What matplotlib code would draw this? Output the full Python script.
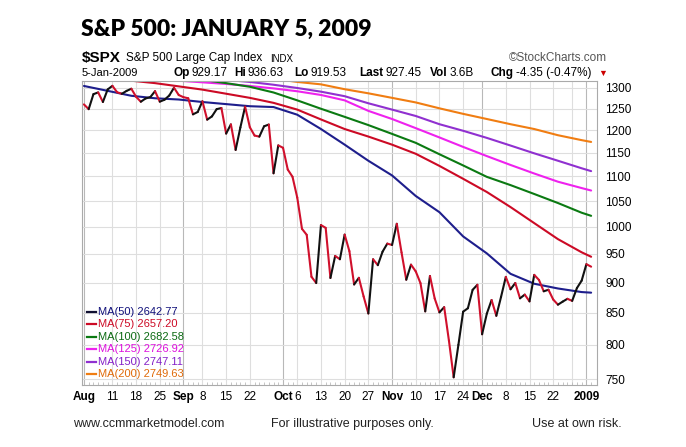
import matplotlib
matplotlib.use("Agg")
import matplotlib.pyplot as plt
from matplotlib.collections import LineCollection
from matplotlib.lines import Line2D
from matplotlib.ticker import FixedLocator, NullFormatter
import numpy as np
import pandas as pd

plt.rcParams['font.family'] = ['Liberation Sans', 'DejaVu Sans']

W, H = 686, 447

# trading days shown on the chart (Aug 1 2008 .. Jan 5 2009)
holidays = ['2008-09-01', '2008-11-27', '2008-12-25', '2009-01-01']
dates = pd.bdate_range('2008-08-01', '2009-01-05').drop(pd.to_datetime(holidays))

close = [
    # Aug
    1260.31, 1249.01, 1284.88, 1289.19, 1266.07, 1296.32, 1305.32, 1289.59, 1285.83, 1292.93,
    1298.20, 1278.60, 1266.69, 1274.54, 1277.72, 1292.20, 1266.84, 1271.51, 1281.66, 1300.68, 1282.83,
    # Sep
    1277.58, 1274.98, 1236.83, 1242.31, 1267.79, 1224.51, 1232.04, 1249.05, 1251.70, 1192.70,
    1213.60, 1156.39, 1206.51, 1255.08, 1207.09, 1188.22, 1185.87, 1209.18, 1213.27, 1106.42, 1166.36,
    # Oct
    1161.06, 1114.28, 1099.23, 1056.89, 996.23, 984.94, 909.92, 899.22, 1003.35, 998.01,
    907.84, 946.43, 940.55, 985.40, 955.05, 896.78, 908.11, 876.77, 848.92, 940.51,
    930.09, 954.09, 968.75,
    # Nov
    966.30, 1005.75, 952.77, 904.88, 930.99, 919.21, 898.95, 852.30, 911.29, 873.29,
    850.75, 859.12, 806.58, 752.44, 800.03, 851.81, 857.39, 887.68, 896.24,
    # Dec
    816.21, 848.81, 870.74, 845.22, 876.07, 909.70, 888.67, 899.24, 873.59, 879.73,
    868.57, 913.18, 904.42, 885.28, 887.88, 871.63, 863.16, 868.15, 872.80, 869.42,
    890.64, 903.25,
    # Jan
    931.80, 927.45,
]

ma_day = [0, 5, 10, 15, 20, 25, 30, 35, 40, 45, 50, 55, 60, 65, 70, 75, 80, 85, 90, 95, 100, 105, 107]
ma50 = [1305, 1293, 1281, 1275, 1272, 1266, 1261, 1256, 1254, 1236, 1203, 1168, 1133, 1102,
        1060, 1028, 982, 951, 915, 898, 890, 884, 883]
ma75 = [1335, 1325, 1318, 1312, 1304, 1296, 1286, 1276, 1264, 1248, 1225, 1203, 1186, 1168,
        1148, 1122, 1095, 1068, 1038, 1007, 977, 953, 945]
ma100 = [1345, 1340, 1335, 1330, 1325, 1320, 1312, 1303, 1289, 1270, 1250, 1231, 1212, 1192,
         1172, 1147, 1123, 1099, 1082, 1064, 1046, 1027, 1021]
ma125 = [1345, 1338, 1331, 1324, 1318, 1314, 1310, 1305, 1299, 1292, 1283, 1270, 1245, 1226,
         1205, 1184, 1163, 1143, 1124, 1106, 1089, 1076, 1071]
ma150 = [1350, 1345, 1340, 1335, 1330, 1325, 1320, 1315, 1308, 1300, 1291, 1280, 1263, 1248,
         1233, 1214, 1199, 1183, 1166, 1149, 1133, 1117, 1111]
ma200 = [1370, 1365, 1360, 1355, 1350, 1345, 1338, 1331, 1323, 1315, 1309, 1297, 1287, 1276,
         1265, 1251, 1238, 1226, 1214, 1203, 1189, 1178, 1174]

ma_series = [ma50, ma75, ma100, ma125, ma150, ma200]
ma_names = ['MA(50) 2642.77', 'MA(75) 2657.20', 'MA(100) 2682.58',
            'MA(125) 2726.92', 'MA(150) 2747.11', 'MA(200) 2749.63']
ma_colors = ['#1e1e8c', '#cc0a25', '#0b7a12', '#ee22ee', '#9030d0', '#f07d12']
ma_text_colors = ['#10107a', '#cc0a25', '#0b6a12', '#dd11dd', '#8420c8', '#e06a08']

tick_dates = ['2008-08-01', '2008-08-11', '2008-08-18', '2008-08-25', '2008-09-02', '2008-09-08',
              '2008-09-15', '2008-09-22', '2008-10-01', '2008-10-06', '2008-10-13', '2008-10-20',
              '2008-10-27', '2008-11-03', '2008-11-10', '2008-11-17', '2008-11-24', '2008-12-01',
              '2008-12-08', '2008-12-15', '2008-12-22', '2009-01-02']
tick_labels = ['Aug', '11', '18', '25', 'Sep', '8', '15', '22', 'Oct', '6', '13', '20', '27',
               'Nov', '10', '17', '24', 'Dec', '8', '15', '22', '2009']
extra_grid = ['2008-12-29']
y_ticks = [750, 800, 850, 900, 950, 1000, 1050, 1100, 1150, 1200, 1250, 1300]

# quote line: (label, value, left edge in px)
quote = [('Op', '929.17', 173), ('Hi', '936.63', 234), ('Lo', '919.53', 294),
         ('Last', '927.45', 359), ('Vol', '3.6B', 430), ('Chg', '-4.35 (-0.47%)', 491)]


def pos(d):
    return dates.get_loc(pd.Timestamp(d))


def fx(x):
    return x / W


def fy(y):
    return 1 - y / H


fig = plt.figure(figsize=(W / 100, H / 100), dpi=100)
ax = fig.add_axes([fx(82), fy(385), (597 - 82) / W, (385 - 81) / H])

x = np.arange(len(close))
c = np.array(close)

# grid
for d, lab in zip(tick_dates, tick_labels):
    month = not lab.isdigit() or lab == '2009'
    ax.axvline(pos(d), color='#b8b8b8' if month else '#dedede', lw=0.8, zorder=0)
for d in extra_grid:
    ax.axvline(pos(d), color='#dedede', lw=0.8, zorder=0)
for v in y_ticks:
    ax.axhline(v, color='#dedede', lw=0.8, zorder=0)

# moving averages
for vals, col in zip(ma_series[::-1], ma_colors[::-1]):
    ax.plot(ma_day, vals, color=col, lw=1.5, zorder=2, solid_capstyle='round')

# close line, black on up days, red on down days
segs = np.stack([np.column_stack([x[:-1], c[:-1]]), np.column_stack([x[1:], c[1:]])], axis=1)
cols = ['#111111' if c[i + 1] >= c[i] else '#d0102c' for i in range(len(c) - 1)]
ax.add_collection(LineCollection(segs, colors=cols, linewidths=1.5, zorder=3, capstyle='round'))

ax.set_yscale('log')
ax.set_ylim(741.6, 1317.3)
ax.set_xlim(-0.41, 108.24)

ax.yaxis.tick_right()
ax.yaxis.set_major_locator(FixedLocator(y_ticks))
ax.yaxis.set_minor_locator(FixedLocator([]))
ax.yaxis.set_minor_formatter(NullFormatter())
ax.set_yticklabels([str(v) for v in y_ticks])
ax.tick_params(axis='y', length=0, pad=6, labelsize=8.5)

ax.set_xticks([pos(d) for d in tick_dates])
ax.set_xticklabels(tick_labels)
for t, lab in zip(ax.get_xticklabels(), tick_labels):
    if not lab.isdigit() or lab == '2009':
        t.set_fontweight('bold')
ax.xaxis.set_minor_locator(FixedLocator(x))
ax.tick_params(axis='x', which='major', length=0, pad=4, labelsize=8.5)
ax.tick_params(axis='x', which='minor', length=2, direction='in', color='#bbbbbb', width=0.6)
for s in ax.spines.values():
    s.set_color('#aaaaaa')
    s.set_linewidth(0.8)

# legend block
for i, (name, lc, tc) in enumerate(zip(ma_names, ma_colors, ma_text_colors)):
    yy = 312 + i * 12.4
    fig.add_artist(Line2D([fx(87), fx(96)], [fy(yy), fy(yy)], color=lc if i else '#111133', lw=1.6))
    fig.text(fx(98), fy(yy), name, color=tc, fontsize=8, va='center', ha='left')

# header
fig.text(fx(81), fy(29), 'S&P 500: JANUARY 5, 2009', fontsize=16.5, fontweight='heavy',
         family=['Lato', 'DejaVu Sans'], va='center', ha='left')

r = fig.canvas.get_renderer()

t = fig.text(fx(82), fy(58), '$SPX', fontsize=11, fontweight='bold', va='center', ha='left')
fig.text(fx(126), fy(58.5), 'S&P 500 Large Cap Index', fontsize=8.5, va='center', ha='left')
fig.text(fx(270), fy(58.5), 'INDX', fontsize=7, va='center', ha='left')
fig.text(fx(607), fy(58), '\u00a9StockCharts.com', fontsize=8.5, color='#555555', va='center', ha='right')

fig.text(fx(82), fy(73), '5-Jan-2009', fontsize=8, va='center', ha='left')
for lab, val, x0 in quote:
    t = fig.text(fx(x0), fy(73), lab, fontsize=8.5, fontweight='bold', va='center', ha='left')
    wd = t.get_window_extent(renderer=r).width
    fig.text(fx(x0 + wd + 2), fy(73), val, fontsize=8.5, va='center', ha='left')
fig.text(fx(603), fy(73), '\u25bc', fontsize=6.5, color='#cc0000', va='center', ha='center')

# footer
fig.text(fx(73), fy(424), 'www.ccmmarketmodel.com', fontsize=9, color='#222222', va='center')
fig.text(fx(271), fy(424), 'For illustrative purposes only.', fontsize=9, color='#222222', va='center')
fig.text(fx(532), fy(424), 'Use at own risk.', fontsize=9, color='#222222', va='center')

fig.savefig('out.png', dpi=100)
